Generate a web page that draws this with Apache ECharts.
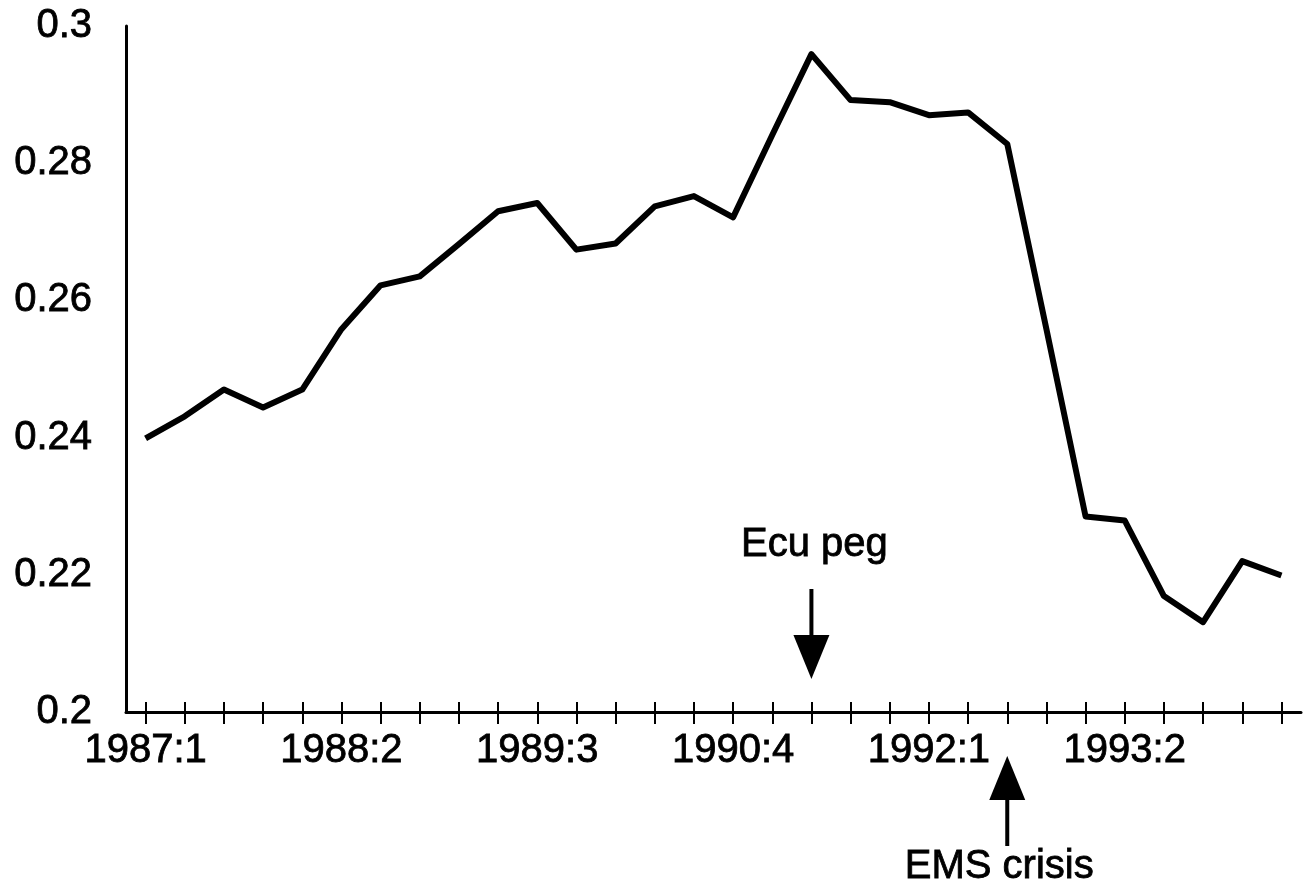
<!DOCTYPE html>
<html style="height: 100%">
<head>
    <meta charset="utf-8">
</head>
<body style="height: 100%; margin: 0; background: #fff">
<div id="container" style="width: 1312px; height: 889px"></div>

<script type="text/javascript" src="https://fastly.jsdelivr.net/npm/echarts@6/dist/echarts.min.js"></script>
<script type="text/javascript">
    const quarters = [
        '1987:1', '1987:2', '1987:3', '1987:4',
        '1988:1', '1988:2', '1988:3', '1988:4',
        '1989:1', '1989:2', '1989:3', '1989:4',
        '1990:1', '1990:2', '1990:3', '1990:4',
        '1991:1', '1991:2', '1991:3', '1991:4',
        '1992:1', '1992:2', '1992:3', '1992:4',
        '1993:1', '1993:2', '1993:3', '1993:4',
        '1994:1', '1994:2'
    ];
    const values = [
        0.2399, 0.2431, 0.2470, 0.2444, 0.2470, 0.2558, 0.2622, 0.2635, 0.2682, 0.2730,
        0.2742, 0.2674, 0.2683, 0.2737, 0.2752, 0.2721, 0.2841, 0.2959, 0.2892, 0.2889,
        0.2870, 0.2874, 0.2828, 0.2558, 0.2285, 0.2279, 0.2169, 0.2131, 0.2220, 0.2199
    ];
    const yTicks = [0.2, 0.22, 0.24, 0.26, 0.28, 0.3];
    // annotations: arrow above the axis pointing down, or below the axis pointing up
    const notes = [
        { text: 'Ecu peg', quarter: '1991:2', side: 'above' },
        { text: 'EMS crisis', quarter: '1992:3', side: 'below' }
    ];

    const FONT = '"Liberation Sans", Arial, sans-serif';
    const dom = document.getElementById('container');
    const myChart = echarts.init(dom, null, { renderer: 'canvas' });

    // scanned text looks a bit heavier, so give it a thin outline
    const textLook = {
        color: '#000', fontSize: 40, fontFamily: FONT,
        textBorderColor: '#000', textBorderWidth: 0.8
    };
    const tickStyle = { color: '#000', width: 2 };
    const option = {
        animation: false,
        backgroundColor: '#fff',
        grid: { left: 126, right: 11, top: 26, bottom: 177 },
        xAxis: [
            {
                type: 'category',
                position: 'bottom',
                data: quarters,
                boundaryGap: true,
                axisLine: { show: true, lineStyle: { color: '#000', width: 3 } },
                axisTick: { show: true, alignWithLabel: true, interval: 0, length: 12, lineStyle: tickStyle },
                axisLabel: Object.assign({ show: true, interval: 4, margin: 19 }, textLook),
                splitLine: { show: false }
            },
            {
                type: 'category',
                position: 'bottom',
                data: quarters,
                boundaryGap: true,
                axisLine: { show: false },
                axisTick: { show: true, inside: true, alignWithLabel: true, interval: 0, length: 10, lineStyle: tickStyle },
                axisLabel: { show: false },
                splitLine: { show: false }
            }
        ],
        yAxis: {
            type: 'value',
            min: yTicks[0],
            max: yTicks[yTicks.length - 1],
            interval: 0.02,
            axisLine: { show: true, lineStyle: { color: '#000', width: 3 } },
            axisTick: { show: false },
            splitLine: { show: false },
            axisLabel: Object.assign({
                margin: 34,
                formatter: function (v) { return String(+v.toFixed(2)); }
            }, textLook)
        },
        series: [
            {
                type: 'line',
                data: values,
                symbol: 'none',
                lineStyle: { color: '#000', width: 6, join: 'round' },
                z: 3
            }
        ]
    };
    myChart.setOption(option);

    // arrows and labels placed through the axes' own scales
    const graphics = [];
    notes.forEach(function (n) {
        const p = myChart.convertToPixel({ xAxisIndex: 0, yAxisIndex: 0 }, [n.quarter, yTicks[0]]);
        const x = p[0], axisY = p[1];
        const headH = 44, headW = 36, shaft = 46, shaftW = 4;
        let tip, base, shaftEnd, textY, textX = x;
        if (n.side === 'above') {
            tip = axisY - 33;
            base = tip - headH;
            shaftEnd = base - shaft;
            textY = shaftEnd - 44;
            textX = x + 3;
        } else {
            tip = axisY + 44;
            base = tip + headH;
            shaftEnd = base + shaft;
            textY = shaftEnd + 21;
            textX = x - 8;
        }
        graphics.push({
            type: 'polygon',
            shape: { points: [[x, tip], [x - headW / 2, base], [x + headW / 2, base]] },
            style: { fill: '#000' }
        });
        graphics.push({
            type: 'rect',
            shape: { x: x - shaftW / 2, y: Math.min(base, shaftEnd), width: shaftW, height: Math.abs(shaftEnd - base) },
            style: { fill: '#000' }
        });
        graphics.push({
            type: 'text',
            x: textX,
            y: textY,
            style: {
                text: n.text, fill: '#000', fontSize: 40, fontFamily: FONT,
                stroke: '#000', lineWidth: 0.8,
                align: 'center', verticalAlign: 'middle'
            }
        });
    });
    myChart.setOption({ graphic: graphics });

    window.addEventListener('resize', myChart.resize);
</script>
</body>
</html>
